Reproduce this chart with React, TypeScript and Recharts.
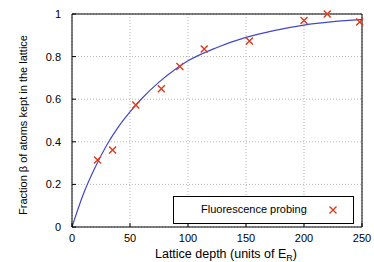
import React from 'react';
import { ComposedChart, Line, Scatter, XAxis, YAxis, CartesianGrid, Legend } from 'recharts';

// measured points (lattice depth in E_R, fraction kept)
const depth = [22, 35, 55, 77, 93, 114, 153, 200, 220, 248];
const fraction = [0.315, 0.361, 0.573, 0.649, 0.753, 0.836, 0.873, 0.97, 1.0, 0.963];

// fitted curve
const fitDepth = [0, 10, 20, 30, 40, 50, 60, 75, 90, 100, 125, 150, 175, 200, 225, 250];
const fitFraction = [0, 0.157, 0.28, 0.385, 0.47, 0.54, 0.602, 0.68, 0.744, 0.78, 0.843, 0.89, 0.923, 0.948, 0.964, 0.975];

const xTicks = [0, 50, 100, 150, 200, 250];
const yTicks = [0, 0.2, 0.4, 0.6, 0.8, 1];

const points = depth.map((x, i) => ({ x, y: fraction[i] }));
const fit = fitDepth.map((x, i) => ({ x, y: fitFraction[i] }));

const FONT = '"Liberation Sans", Arial, sans-serif';
const RED = '#dc3a1c';
const BLUE = '#4248c8';

const Cross = (props: any) => {
  const { cx, cy } = props;
  const s = 3.5;
  return (
    <path
      d={`M${cx - s},${cy - s}L${cx + s},${cy + s}M${cx - s},${cy + s}L${cx + s},${cy - s}`}
      stroke={RED}
      strokeWidth={1.4}
      fill="none"
    />
  );
};

const LegendBox = () => (
  <div
    style={{
      boxSizing: 'border-box',
      width: 181,
      height: 28,
      border: '1px solid #000',
      background: '#fff',
      position: 'relative',
      fontFamily: FONT,
      fontSize: 11,
      color: '#000',
    }}
  >
    <span style={{ position: 'absolute', left: 27, top: 6 }}>Fluorescence probing</span>
    <svg width={10} height={10} style={{ position: 'absolute', left: 154, top: 8 }}>
      <path d="M1.5,1.5L8.5,8.5M1.5,8.5L8.5,1.5" stroke={RED} strokeWidth={1.4} />
    </svg>
  </div>
);

const App: React.FC = () => {
  const tickStyle = { fontSize: 11, fontFamily: FONT, fill: '#000' };
  return (
    <div style={{ position: 'absolute', left: 0, top: 0, background: '#fff' }}>
      <ComposedChart width={374} height={262} margin={{ top: 0, right: 0, bottom: 0, left: 0 }}>
        <CartesianGrid xAxisId="b" yAxisId="l" stroke="#b4b4b4" strokeDasharray="1 2" />
        <XAxis
          xAxisId="b"
          dataKey="x"
          type="number"
          orientation="bottom"
          domain={[0, 250]}
          ticks={xTicks}
          height={35}
          tickSize={-4}
          tickMargin={11}
          tick={tickStyle}
          stroke="#000"
          label={{
            content: () => (
              <text x={226} y={258} textAnchor="middle" fontSize={12.5} fontFamily={FONT} fill="#000">
                Lattice depth (units of E
                <tspan dy={3} fontSize={9}>R</tspan>
                <tspan dy={-3}>)</tspan>
              </text>
            ),
          }}
        />
        <XAxis
          xAxisId="t"
          dataKey="x"
          type="number"
          orientation="top"
          domain={[0, 250]}
          ticks={xTicks}
          height={14}
          tickSize={-4}
          tick={() => <g />}
          stroke="#000"
        />
        <YAxis
          yAxisId="l"
          dataKey="y"
          type="number"
          orientation="left"
          domain={[0, 1]}
          ticks={yTicks}
          width={72}
          tickSize={-4}
          tickMargin={15}
          tick={tickStyle}
          stroke="#000"
          label={{
            content: () => (
              <text
                x={23}
                y={125}
                dy="0.35em"
                transform="rotate(-90, 23, 125)"
                textAnchor="middle"
                fontSize={11}
                fontFamily={FONT}
                fill="#000"
              >
                Fraction β of atoms kept in the lattice
              </text>
            ),
          }}
        />
        <YAxis
          yAxisId="r"
          dataKey="y"
          type="number"
          orientation="right"
          domain={[0, 1]}
          ticks={yTicks}
          width={12}
          tickSize={-4}
          tick={() => <g />}
          stroke="#000"
        />
        <Line
          xAxisId="b"
          yAxisId="l"
          data={fit}
          dataKey="y"
          type="monotone"
          stroke={BLUE}
          strokeWidth={1.2}
          dot={false}
          isAnimationActive={false}
        />
        <Scatter
          xAxisId="b"
          yAxisId="l"
          data={points}
          dataKey="y"
          shape={Cross}
          isAnimationActive={false}
        />
        <Legend
          layout="horizontal"
          verticalAlign="middle"
          align="center"
          content={LegendBox}
          wrapperStyle={{ left: 173, top: 196, width: 181, height: 28 }}
        />
      </ComposedChart>
    </div>
  );
};

export default App;
